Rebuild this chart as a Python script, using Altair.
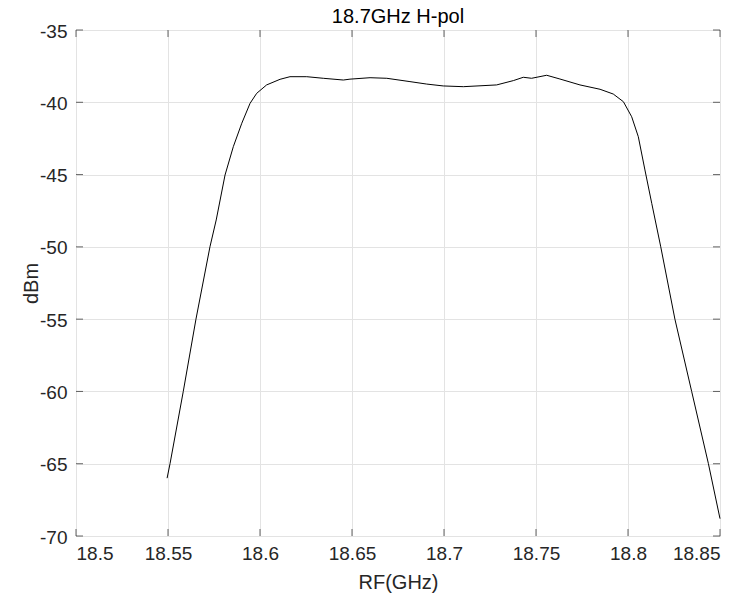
import altair as alt
import pandas as pd

# Measured response of the 18.7 GHz H-pol channel
freq_ghz = [
    18.5495, 18.5511, 18.5583, 18.5652, 18.5728, 18.5762, 18.5810, 18.5855,
    18.5901, 18.5946, 18.5982, 18.6036, 18.6109, 18.6163, 18.6254, 18.6344,
    18.6453, 18.6489, 18.6598, 18.6689, 18.6815, 18.6906, 18.6996, 18.7105,
    18.7286, 18.7377, 18.7431, 18.7476, 18.7558, 18.7630, 18.7739, 18.7848,
    18.7920, 18.7975, 18.8020, 18.8056, 18.8092, 18.8129, 18.8178, 18.8255,
    18.8346, 18.8437, 18.8500,
]
power_dbm = [
    -66.0, -65.0, -60.0, -55.0, -50.0, -48.14, -45.03, -43.07,
    -41.45, -40.07, -39.38, -38.80, -38.41, -38.23, -38.23, -38.34,
    -38.46, -38.40, -38.30, -38.34, -38.57, -38.74, -38.87, -38.92,
    -38.80, -38.50, -38.27, -38.34, -38.13, -38.39, -38.80, -39.10,
    -39.43, -39.96, -41.0, -42.38, -44.68, -46.99, -50.0, -55.0,
    -60.0, -65.0, -68.8,
]

x_ticks = [18.5, 18.55, 18.6, 18.65, 18.7, 18.75, 18.8, 18.85]
y_ticks = [-70, -65, -60, -55, -50, -45, -40, -35]
x_min, x_max = 18.5, 18.85
y_min, y_max = -70, -35
plot_title = ["18.7GHz H-pol"]

INK = "#262626"
GRID = "#e3e3e3"
FONT = "Liberation Sans"
W, H = 644, 506

curve = pd.DataFrame({"f": freq_ghz, "p": power_dbm})
xt = pd.DataFrame({"f": x_ticks})
yt = pd.DataFrame({"p": y_ticks})
tt = pd.DataFrame({"t": plot_title})

x_scale = alt.Scale(domain=[x_min, x_max], nice=False, zero=False)
y_scale = alt.Scale(domain=[y_min, y_max], nice=False, zero=False)

# plain hyphen-minus labels, as printed by the value itself
plain_label = "'' + datum.value"

x_axis = alt.Axis(
    values=x_ticks, labelExpr=plain_label, title="RF(GHz)", grid=True,
    gridColor=GRID, ticks=False, tickSize=0, domain=False, labelFont=FONT,
    labelFontSize=19, labelColor=INK, labelPadding=23,
    labelBaseline="alphabetic", titleFont=FONT, titleFontSize=20,
    titleFontWeight="normal", titleColor=INK, titleX=W / 2, titleY=52,
    titleBaseline="alphabetic", titleAlign="center",
)
y_axis = alt.Axis(
    values=y_ticks, labelExpr=plain_label, title="dBm", grid=True,
    gridColor=GRID, ticks=False, tickSize=0, domain=False, labelFont=FONT,
    labelFontSize=19, labelColor=INK, labelPadding=9, labelBaseline="middle",
    labelOffset=1, titleFont=FONT, titleFontSize=20, titleFontWeight="normal",
    titleColor=INK, titleX=-39, titleY=H / 2, titleBaseline="alphabetic",
    titleAlign="center", titleAngle=270,
)

line = alt.Chart(curve).mark_line(color="black", strokeWidth=1).encode(
    x=alt.X("f:Q", scale=x_scale, axis=x_axis),
    y=alt.Y("p:Q", scale=y_scale, axis=y_axis),
)

# Inward-pointing tick marks on all four sides of the box
tick_len = 7
bottom = alt.Chart(xt).mark_tick(orient="vertical", size=tick_len, thickness=1,
                                 color=INK, yOffset=-tick_len / 2).encode(
    x=alt.X("f:Q", scale=x_scale), y=alt.datum(y_min))
top = alt.Chart(xt).mark_tick(orient="vertical", size=tick_len, thickness=1,
                              color=INK, yOffset=tick_len / 2).encode(
    x=alt.X("f:Q", scale=x_scale), y=alt.datum(y_max))
left = alt.Chart(yt).mark_tick(orient="horizontal", size=tick_len, thickness=1,
                               color=INK, xOffset=tick_len / 2).encode(
    y=alt.Y("p:Q", scale=y_scale), x=alt.datum(x_min))
right = alt.Chart(yt).mark_tick(orient="horizontal", size=tick_len, thickness=1,
                                color=INK, xOffset=-tick_len / 2).encode(
    y=alt.Y("p:Q", scale=y_scale), x=alt.datum(x_max))

# Title centred above the box
title = alt.Chart(tt).mark_text(
    font=FONT, fontSize=20, color="black", align="center", baseline="alphabetic"
).encode(text="t:N", x=alt.value(W / 2), y=alt.value(-7))

chart = alt.layer(line, bottom, top, left, right, title).properties(
    width=W,
    height=H,
    autosize=alt.AutoSizeParams(type="none"),
    padding={"left": 76, "top": 30, "right": 29, "bottom": 70},
).configure_view(stroke=INK, strokeWidth=1).configure(background="white")

chart.save("out.html", embed_options={"renderer": "svg", "actions": False})
